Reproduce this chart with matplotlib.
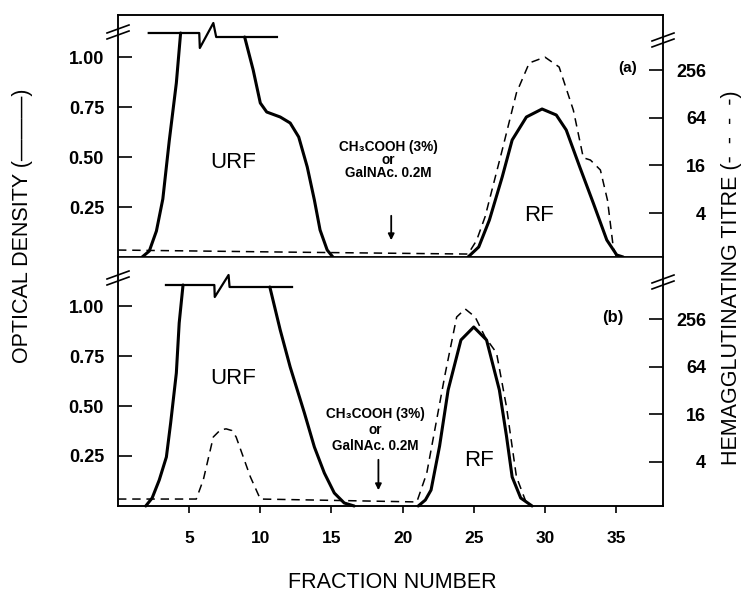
import numpy as np
import matplotlib
matplotlib.use("Agg")
import matplotlib.pyplot as plt

plt.rcParams['font.family'] = ['Liberation Sans', 'DejaVu Sans']

# ---- panel (a) : optical density (solid) ----
a_urf_rise_x = [1.7, 2.2, 2.7, 3.15, 3.6, 4.1, 4.4]
a_urf_rise_od = [0.0, 0.03, 0.13, 0.29, 0.58, 0.87, 1.12]
a_urf_fall_x = [8.9, 9.5, 10.0, 10.45, 11.4, 12.1, 12.7, 13.3, 13.8, 14.2, 14.7, 15.1]
a_urf_fall_od = [1.10, 0.935, 0.77, 0.725, 0.70, 0.67, 0.60, 0.45, 0.285, 0.135, 0.035, 0.0]
a_off_x = [2.16, 5.71, 5.75, 6.7, 6.9, 11.17]   # off-scale plateau with break
a_off_od = [1.12, 1.12, 1.045, 1.17, 1.10, 1.10]
a_rf_x = [24.6, 25.35, 26.1, 27.0, 27.7, 28.7, 29.8, 30.8, 31.5, 32.45, 33.4, 34.35, 35.05, 35.5]
a_rf_od = [0.0, 0.05, 0.185, 0.40, 0.585, 0.70, 0.74, 0.71, 0.635, 0.45, 0.27, 0.085, 0.01, 0.0]
# panel (a) : hemagglutinating titre (dashed)
a_ha_x = [0.0, 12.0, 24.6, 25.2, 25.8, 27.0, 28.0, 28.9, 30.0, 31.0, 32.0, 32.7, 33.2, 33.9, 34.4, 34.8, 35.0]
a_ha_titre = [1.36, 1.28, 1.21, 1.8, 3.6, 25, 132, 316, 375, 281, 80, 20, 18.7, 14, 5.8, 1.5, 1.15]

# ---- panel (b) ----
b_urf_rise_x = [1.95, 2.4, 2.9, 3.4, 3.7, 4.1, 4.3, 4.57]
b_urf_rise_od = [0.0, 0.04, 0.13, 0.245, 0.415, 0.665, 0.915, 1.105]
b_urf_fall_x = [10.67, 11.4, 12.1, 13.1, 13.8, 14.5, 15.2, 15.9, 16.6]
b_urf_fall_od = [1.095, 0.88, 0.695, 0.465, 0.295, 0.165, 0.065, 0.015, 0.0]
b_off_x = [3.37, 6.77, 6.8, 7.77, 7.84, 12.23]
b_off_od = [1.105, 1.105, 1.045, 1.155, 1.095, 1.095]
b_rf_x = [21.1, 21.6, 22.0, 22.6, 23.2, 24.1, 25.0, 25.9, 26.8, 27.3, 27.7, 28.3, 29.1]
b_rf_od = [0.0, 0.03, 0.08, 0.30, 0.58, 0.83, 0.895, 0.83, 0.58, 0.35, 0.145, 0.04, 0.0]
b_ha_x = [0.0, 5.5, 6.0, 6.7, 7.2, 7.6, 8.0, 8.3, 9.3, 10.0, 21.0, 21.7, 23.0, 23.8, 24.4,
          25.1, 25.8, 26.6, 27.3, 28.0, 28.7]
b_ha_titre = [1.36, 1.36, 2.4, 8.3, 10.2, 10.5, 10.0, 8.3, 2.6, 1.36, 1.25, 2.9, 53, 273, 345,
              273, 152, 96, 20, 2.6, 1.21]

od_ticks = [0.25, 0.50, 0.75, 1.00]
od_ticklabels = ['0.25', '0.50', '0.75', '1.00']
titre_ticks = [4, 16, 64, 256]
x_ticks = [5, 10, 15, 20, 25, 30, 35]

# mapping between the two y scales: od = C + S*log2(titre)
S, C = 0.119, -0.018

W, H = 755, 601
fig = plt.figure(figsize=(W / 100, H / 100), dpi=100)
left, right = 118 / W, 663 / W
ax_a = fig.add_axes([left, 1 - 257 / H, right - left, 242 / H])
ax_b = fig.add_axes([left, 1 - 506 / H, right - left, 249 / H])

solid = dict(color='black', lw=2.2, solid_capstyle='round', solid_joinstyle='round')
dashed = dict(color='black', lw=1.1, ls=(0, (5.5, 3.8)))


def setup(ax, ytop, xt, label_x):
    ax.set_xlim(0, 38.3)
    ax.set_ylim(0, ytop)
    for s in ax.spines.values():
        s.set_linewidth(1.1)
    ax.set_yticks(od_ticks, od_ticklabels)
    ax.tick_params(axis='y', direction='in', length=10, width=1.2, pad=10,
                   labelsize=13)
    for t in ax.get_yticklabels():
        t.set_fontweight('bold')
    if label_x:
        ax.set_xticks(xt)
        ax.tick_params(axis='x', direction='out', length=5, width=1.2, pad=13,
                       labelsize=12.5)
        for t in ax.get_xticklabels():
            t.set_fontweight('bold')
    else:
        ax.set_xticks([])
    tw = ax.twinx()
    tw.set_yscale('log', base=2)
    tw.set_ylim(2 ** ((0 - C) / S), 2 ** ((ytop - C) / S))
    tw.set_yticks(titre_ticks, [str(v) for v in titre_ticks])
    tw.minorticks_off()
    tw.tick_params(axis='y', direction='in', length=10, width=1.2, pad=31,
                   labelsize=13)
    for t in tw.get_yticklabels():
        t.set_fontweight('bold')
        t.set_horizontalalignment('right')
    for s in tw.spines.values():
        s.set_linewidth(1.1)
    return tw


def axis_break(ax, xf, yf, ax_w_px, ax_h_px):
    dx, dy = 11 / ax_w_px, 4 / ax_h_px
    for off in (-3, 3):
        o = off / ax_h_px
        ax.plot([xf - dx, xf + dx], [yf - dy + o, yf + dy + o], color='black',
                lw=1.2, transform=ax.transAxes, clip_on=False)


tw_a = setup(ax_a, 1.21, x_ticks, False)
tw_b = setup(ax_b, 1.245, x_ticks, True)
ax_b.spines['top'].set_visible(False)
tw_b.spines['top'].set_visible(False)

for ax, tw, rise, fall, off, rf, ha in [
        (ax_a, tw_a, (a_urf_rise_x, a_urf_rise_od), (a_urf_fall_x, a_urf_fall_od),
         (a_off_x, a_off_od), (a_rf_x, a_rf_od), (a_ha_x, a_ha_titre)),
        (ax_b, tw_b, (b_urf_rise_x, b_urf_rise_od), (b_urf_fall_x, b_urf_fall_od),
         (b_off_x, b_off_od), (b_rf_x, b_rf_od), (b_ha_x, b_ha_titre))]:
    ax.plot(*rise, **solid, clip_on=False)
    ax.plot(*fall, **solid, clip_on=False)
    ax.plot(*off, color='black', lw=1.6, clip_on=False)
    ax.plot(*rf, **solid, clip_on=False)
    tw.plot(*ha, **dashed)

aw = right * W - left * W
axis_break(ax_a, 0, (257 - 32) / 242, aw, 242)
axis_break(ax_a, 1, (257 - 40) / 242, aw, 242)
axis_break(ax_b, 0, (506 - 278) / 249, aw, 249)
axis_break(ax_b, 1, (506 - 282) / 249, aw, 249)

# labels inside panels
ax_a.text(8.1, 0.475, 'URF', fontsize=16, ha='center', va='center')
ax_a.text(29.6, 0.21, 'RF', fontsize=16, ha='center', va='center')
ax_a.text(36.5, 0.945, '(a)', fontsize=11, fontweight='bold', ha='right', va='center')
ax_b.text(8.1, 0.64, 'URF', fontsize=16, ha='center', va='center')
ax_b.text(25.4, 0.23, 'RF', fontsize=16, ha='center', va='center')
ax_b.text(35.5, 0.945, '(b)', fontsize=12, fontweight='bold', ha='right', va='center')

note = 'CH\u2083COOH (3%)\nor\nGalNAc. 0.2M'
ax_a.text(19.0, 0.485, note, fontsize=9.8, fontweight='bold', ha='center', va='center',
          linespacing=0.95)
ax_b.text(18.1, 0.38, note, fontsize=9.8, fontweight='bold', ha='center', va='center',
          linespacing=1.2)
arrow = dict(arrowstyle='-|>', color='black', lw=1.3, mutation_scale=9)
ax_a.annotate('', xy=(19.2, 0.07), xytext=(19.2, 0.22), arrowprops=arrow)
ax_b.annotate('', xy=(18.3, 0.065), xytext=(18.3, 0.245), arrowprops=arrow)

fig.text(23 / W, 1 - 226 / H, 'OPTICAL DENSITY (\u2014\u2014\u2014)', rotation=90, fontsize=15.5,
         ha='center', va='center')
fig.text(731 / W, 1 - 278 / H, 'HEMAGGLUTINATING TITRE (-  -  -  -)', rotation=90,
         fontsize=15.5, ha='center', va='center')
fig.text(392 / W, 1 - 583 / H, 'FRACTION NUMBER', fontsize=15.5, ha='center', va='center')

fig.savefig('out.png', dpi=100)
